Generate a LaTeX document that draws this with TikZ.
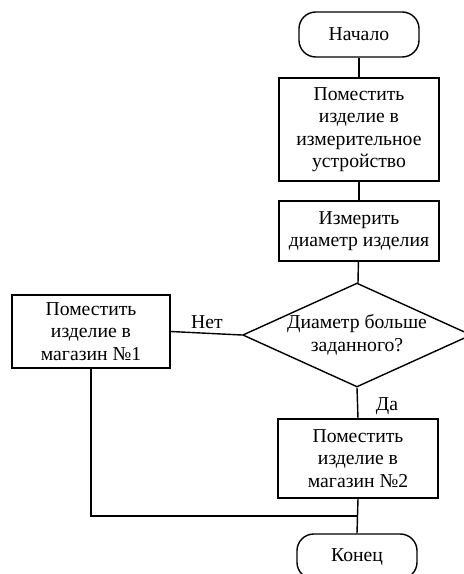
\documentclass[tikz,border=0pt]{standalone}
\usepackage{fontspec}
\setmainfont{Liberation Serif}
\usetikzlibrary{shapes.geometric,positioning}
\tikzset{
  every node/.style={font=\fontsize{14}{16}\selectfont},
  terminal/.style={draw,rounded corners=0.42cm,minimum width=3cm,minimum height=1.125cm},
  stepbox/.style={draw,align=center,minimum width=4cm},
  choice/.style={draw,diamond,align=center,shape aspect=2.2,inner sep=0pt,minimum width=5.3cm,minimum height=2.375cm},
  flow/.style={line width=1pt}
}

\begin{document}
\begin{tikzpicture}[x=0.025cm,y=-0.025cm,line width=1pt]
    \useasboundingbox (0,0) rectangle (463,574);

    % blocks of the main column
    \node[terminal] (start) at (359,34.5) {Начало};
    \node[stepbox,minimum height=2.575cm] (put) at (359,129.5)
        {Поместить\\изделие в\\измерительное\\устройство};
    \node[stepbox,minimum height=1.5cm] (measure) at (359,231)
        {Измерить\\диаметр изделия};
    \node[choice] (check) at (357,335) {Диаметр больше\\заданного?};
    \node[stepbox,minimum height=1.975cm] (store2) at (358,458.5)
        {Поместить\\изделие в\\магазин №2};
    \node[terminal] (stop) at (357,556.5) {Конец};

    % block on the left
    \node[stepbox,minimum width=3.95cm,minimum height=1.825cm] (store1) at (91,331.5)
        {Поместить\\изделие в\\магазин №1};

    % join point
    \coordinate (join) at (358,516);

    % connect the blocks
    \draw[flow] (start) -- (put);
    \draw[flow] (put) -- (measure);
    \draw[flow] (measure) -- (check);
    \draw[flow] (check.west) -- (store1.east);
    \draw[flow] (check.south) -- (store2.north);
    \draw[flow] (store1.south) |- (join);
    \draw[flow] (store2.south) -- (stop.north);

    % label the branches
    \node (no) at (207,322) {Нет};
    \node (yes) at (387,406) {Да};
\end{tikzpicture}
\end{document}
